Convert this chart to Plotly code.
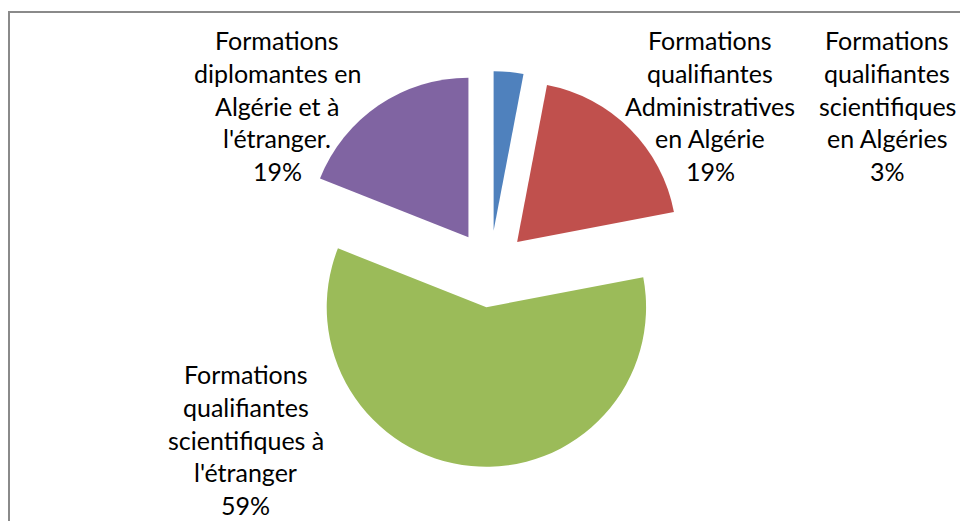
import plotly.graph_objects as go

labels = [
    "Formations qualifiantes scientifiques en Algéries",
    "Formations qualifiantes Administratives en Algérie",
    "Formations qualifiantes scientifiques à l'étranger",
    "Formations diplomantes en Algérie et à l'étranger.",
]
values = [3, 19, 59, 19]
percent_text = ["3%", "19%", "59%", "19%"]
label_lines = [
    ["Formations", "qualifiantes", "scientifiques", "en Algéries"],
    ["Formations", "qualifiantes", "Administratives", "en Algérie"],
    ["Formations", "qualifiantes", "scientifiques à", "l'étranger"],
    ["Formations", "diplomantes en", "Algérie et à", "l'étranger."],
]
colors = ["#4F81BD", "#C0504D", "#9BBB59", "#8064A2"]

W, H = 960, 521

fig = go.Figure(
    go.Pie(
        labels=labels,
        values=values,
        sort=False,
        direction="clockwise",
        rotation=0,
        pull=[0.24] * len(values),
        marker=dict(colors=colors, line=dict(width=0)),
        textinfo="none",
        domain=dict(x=[292 / W, 688 / W], y=[1 - 467 / H, 1 - 71 / H]),
        showlegend=False,
    )
)

# label block positions: (center x, center y of first line) in pixels
label_pos = [(887, 40), (710, 40), (246, 374), (277, 40)]
LINE_STEP = 32.8
annotations = []
for lines, pct, (px, py) in zip(label_lines, percent_text, label_pos):
    for i, line in enumerate(lines + [pct]):
        annotations.append(
            dict(
                text=line,
                x=px / W,
                y=1 - (py + i * LINE_STEP) / H,
                xref="paper",
                yref="paper",
                xanchor="center",
                yanchor="middle",
                align="center",
                showarrow=False,
                font=dict(family="Lato", size=25, color="#000000"),
            )
        )

fig.update_layout(
    width=W,
    height=H,
    margin=dict(l=0, r=0, t=0, b=0),
    paper_bgcolor="white",
    plot_bgcolor="white",
    annotations=annotations,
    shapes=[
        dict(
            type="rect",
            xref="paper",
            yref="paper",
            x0=9 / W,
            x1=1.02,
            y0=-0.02,
            y1=1 - 12 / H,
            line=dict(color="#8a8a8a", width=2),
            fillcolor="rgba(0,0,0,0)",
            layer="below",
        )
    ],
)

fig.write_html(
    "out.html",
    config={"displayModeBar": False},
    post_script="document.body.style.margin='0';document.body.style.overflow='hidden';",
)
